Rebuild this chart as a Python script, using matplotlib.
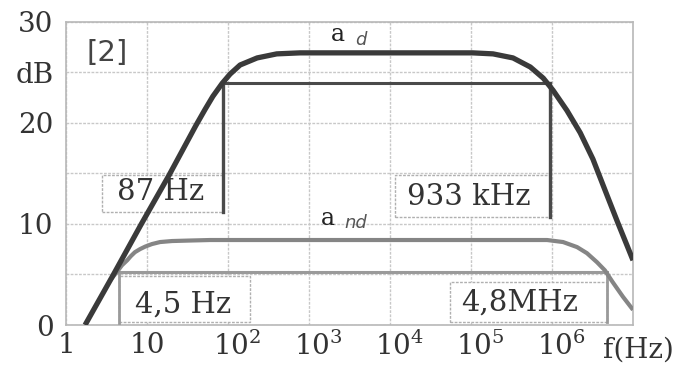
import matplotlib.pyplot as plt
from matplotlib.patches import Rectangle
from matplotlib.transforms import ScaledTranslation

plt.rcParams['font.family'] = 'DejaVu Serif'
plt.rcParams['mathtext.fontset'] = 'dejavuserif'

# ---- podatki (odčitano s slike) ----
# a_d : diferencialno ojačanje
f_ad = [1.72, 3.8, 8.4, 18.7, 40, 52, 65, 85, 106, 141, 229, 400, 775,
        1.05e5, 1.87e5, 3.3e5, 5.4e5, 7.8e5, 1.03e6, 1.53e6, 2.23e6, 3.2e6,
        3.7e6, 4.9e6, 6.5e6, 8.5e6, 1e7]
g_ad = [0, 4.9, 9.9, 14.8, 19.7, 21.3, 22.6, 23.9, 24.8, 25.7, 26.4, 26.8, 26.9,
        26.9, 26.8, 26.4, 25.5, 24.4, 23.2, 21.2, 19.0, 16.4,
        15.1, 12.6, 10.1, 7.8, 6.4]

# a_nd : nediferencialno ojačanje
f_and = [3.5, 4.4, 4.9, 5.7, 6.3, 7.1, 8.2, 9.5, 11.5, 14.5, 20.4, 34, 60,
         8.7e5, 1.37e6, 2.04e6, 2.7e6, 3.6e6, 4.5e6, 5.6e6, 7.5e6, 1e7]
g_and = [4.4, 5.4, 5.9, 6.4, 6.8, 7.2, 7.5, 7.75, 8.0, 8.2, 8.3, 8.35, 8.4,
         8.4, 8.2, 7.7, 7.1, 6.2, 5.4, 4.25, 2.8, 1.5]

# mejne frekvence (-3 dB)
fc_d = [87, 933e3]
lvl_d = 23.9
fc_nd = [4.5, 4.8e6]
lvl_nd = 5.2

x_ticks = [1, 10, 1e2, 1e3, 1e4, 1e5, 1e6]
x_labels = ['1', '10', '$10^2$', '$10^3$', '$10^4$', '$10^5$', '$10^6$']
y_ticks = [0, 5, 10, 15, 20, 25, 30]
y_labels = ['0', '', '10', '', '20', 'dB', '30']

dark = '#3a3a3a'
grey = '#858585'
gridc = '#c8c8c8'
txt = '#333333'

fig = plt.figure(figsize=(6.8, 3.65), dpi=100)
ax = fig.add_axes([66 / 680, 40 / 365, 567 / 680, 303.5 / 365])

ax.set_xscale('log')
ax.set_xlim(1, 1e7)
ax.set_ylim(0, 30)

ax.set_xticks(x_ticks)
ax.set_xticklabels(x_labels, fontsize=20, color=txt)
ax.minorticks_off()
ax.set_yticks(y_ticks)
ax.set_yticklabels(y_labels, fontsize=20, color=txt)
ax.tick_params(length=0)
ax.tick_params(axis='y', pad=9)
ax.tick_params(axis='x', pad=5)

# potence malo v desno (osnova "10" na mreži)
for lab in ax.get_xticklabels()[2:]:
    lab.set_transform(lab.get_transform() + ScaledTranslation(9 / 100, 0, fig.dpi_scale_trans))

ax.grid(True, color=gridc, linestyle=(0, (2, 1)), linewidth=1.0, zorder=0)
for s in ax.spines.values():
    s.set_color('#b8b8b8')
    s.set_linewidth(1.2)

# okvirji z napisi
def box(x0, x1, y0, y1):
    ax.add_patch(Rectangle((x0, y0), x1 - x0, y1 - y0, facecolor='white',
                           edgecolor='#b0b0b0', linewidth=1.0,
                           linestyle=(0, (2, 1)), zorder=2))

box(2.78, fc_d[0], 11.2, 14.8)
box(1.15e4, fc_d[1], 10.7, 14.8)
box(fc_nd[0], 187, 0.3, 4.8)
box(5.5e4, fc_nd[1], 0.3, 4.25)

ax.text(10 ** 1.17, 13.1, '87 Hz', fontsize=21, ha='center', va='center', color=txt, zorder=3)
ax.text(10 ** 4.975, 12.7, '933 kHz', fontsize=21, ha='center', va='center', color=txt, zorder=3)
ax.text(10 ** 1.44, 2.0, '4,5 Hz', fontsize=21, ha='center', va='center', color=txt, zorder=3)
ax.text(10 ** 5.6, 2.2, '4,8MHz', fontsize=21, ha='center', va='center', color=txt, zorder=3)

# -3 dB črte
ax.plot([fc_nd[0], fc_nd[1]], [lvl_nd, lvl_nd], color='#9a9a9a', lw=2.2, zorder=4)
ax.plot([fc_nd[0], fc_nd[0]], [lvl_nd, 0.2], color='#9a9a9a', lw=2.0, zorder=4)
ax.plot([fc_nd[1], fc_nd[1]], [lvl_nd, 0.3], color='#9a9a9a', lw=2.0, zorder=4)

ax.plot([fc_d[0], fc_d[1]], [lvl_d, lvl_d], color='#4a4a4a', lw=2.2, zorder=4)
ax.plot([fc_d[0], fc_d[0]], [lvl_d, 11.2], color='#4a4a4a', lw=2.4, zorder=4)
ax.plot([fc_d[1], fc_d[1]], [lvl_d, 10.7], color='#4a4a4a', lw=2.4, zorder=4)

# krivulji
ax.plot(f_and, g_and, color=grey, lw=3.0, zorder=5, solid_capstyle='butt', solid_joinstyle='round')
ax.plot(f_ad, g_ad, color=dark, lw=3.8, zorder=6, solid_capstyle='butt', solid_joinstyle='round')

# oznake
ax.text(10 ** 3.36, 28.75, 'a', fontsize=17, ha='center', va='center', color='#222222')
ax.text(10 ** 3.57, 28.2, 'd', fontsize=13, ha='left', va='center', color='#555555',
        family='DejaVu Sans', style='italic')
ax.text(10 ** 3.23, 10.5, 'a', fontsize=17, ha='center', va='center', color='#222222')
ax.text(10 ** 3.44, 10.1, 'nd', fontsize=13, ha='left', va='center', color='#555555',
        family='DejaVu Sans', style='italic')
ax.text(10 ** 0.51, 26.9, '[2]', fontsize=21, ha='center', va='center', color='#444444',
        family='DejaVu Sans')

fig.text(603 / 680, 7 / 365, 'f(Hz)', fontsize=20, ha='left', va='baseline', color=txt)

fig.savefig('out.png', dpi=100)
